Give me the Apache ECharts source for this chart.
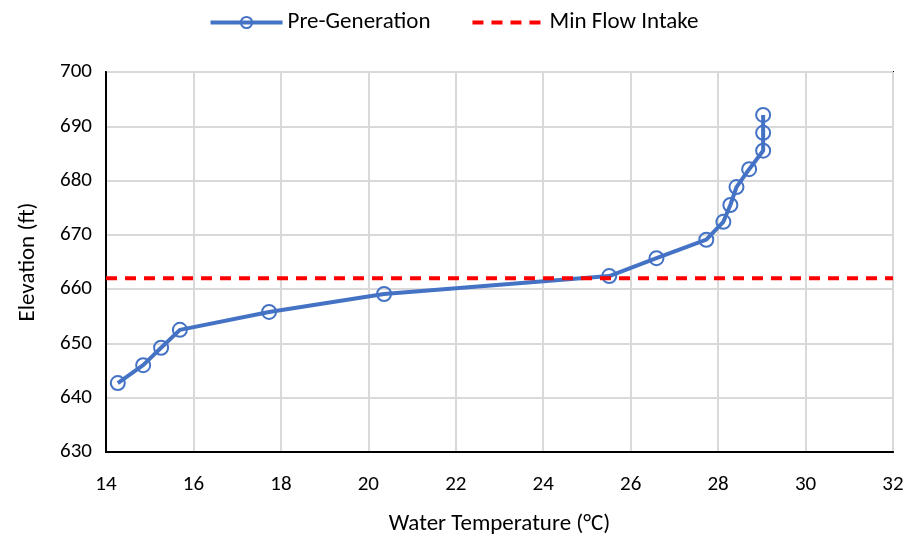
<!DOCTYPE html>
<html><head><meta charset="utf-8">
<script src="https://cdn.jsdelivr.net/npm/echarts@6/dist/echarts.min.js"></script>
<style>html,body{margin:0;padding:0;background:#fff}#c{width:907px;height:539px}</style>
</head><body><div id="c"></div>
<script>
var temperature = [14.27, 14.85, 15.26, 15.69, 17.73, 20.36, 25.51, 26.59, 27.73, 28.12, 28.28, 28.42, 28.71, 29.03, 29.03, 29.03];
var elevation = [642.7, 646.0, 649.2, 652.5, 655.8, 659.1, 662.4, 665.7, 669.1, 672.4, 675.5, 678.8, 682.1, 685.5, 688.8, 692.1];
var minFlowTemp = [14, 32];
var minFlowElev = [662, 662];
var font = "Carlito, 'Liberation Sans Narrow', 'Open Sans', sans-serif";
var chart = echarts.init(document.getElementById('c'));
chart.setOption({
  animation: false,
  textStyle: {fontFamily: font},
  legend: {
    top: 6, left: 'center', itemWidth: 72, itemHeight: 14, itemGap: 40,
    textStyle: {fontSize: 23, color: '#000', fontFamily: font},
    data: [
      {name: 'Pre-Generation', lineStyle: {width: 4}},
      {name: 'Min Flow Intake', lineStyle: {width: 4}, itemStyle: {opacity: 0}}
    ]
  },
  grid: {left: 106, right: 14, top: 72, bottom: 87, show: true, borderColor: '#000', borderWidth: 2, outerBoundsMode: 'none', containLabel: false},
  xAxis: {
    type: 'value', min: 14, max: 32, interval: 2,
    name: 'Water Temperature (°C)', nameLocation: 'middle', nameGap: 61,
    nameTextStyle: {fontSize: 23, color: '#000', fontFamily: font},
    axisLine: {show: true, lineStyle: {color: '#000', width: 2}},
    axisTick: {show: false},
    axisLabel: {fontSize: 21, color: '#000', margin: 22, fontFamily: font},
    splitLine: {show: true, lineStyle: {color: '#d9d9d9', width: 2}}
  },
  yAxis: {
    type: 'value', min: 630, max: 700, interval: 10,
    name: 'Elevation (ft)', nameLocation: 'middle', nameGap: 66,
    nameTextStyle: {fontSize: 23, color: '#000', fontFamily: font},
    axisLine: {show: true, lineStyle: {color: '#000', width: 2}},
    axisTick: {show: false},
    axisLabel: {fontSize: 21, color: '#000', margin: 14, fontFamily: font},
    splitLine: {show: true, lineStyle: {color: '#d9d9d9', width: 2}}
  },
  series: [
    {
      name: 'Pre-Generation', type: 'line',
      data: temperature.map(function(t, i){ return [t, elevation[i]]; }),
      symbol: 'circle', symbolSize: 14, showAllSymbol: true,
      lineStyle: {color: '#4472C4', width: 4},
      itemStyle: {color: 'rgba(255,255,255,0)', borderColor: '#4472C4', borderWidth: 2},
      z: 3
    },
    {
      name: 'Min Flow Intake', type: 'line',
      data: minFlowTemp.map(function(t, i){ return [t, minFlowElev[i]]; }),
      symbol: 'none',
      lineStyle: {color: '#FF0000', width: 4, type: [11, 8]},
      itemStyle: {color: '#FF0000'},
      z: 4
    }
  ]
});
</script></body></html>
